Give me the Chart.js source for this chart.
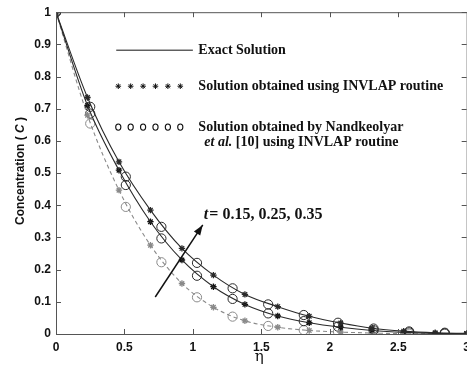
<!DOCTYPE html>
<html>
<head>
<meta charset="utf-8">
<script src="https://cdn.jsdelivr.net/npm/chart.js@4/dist/chart.umd.min.js"></script>
<style>
  html, body { margin: 0; padding: 0; background: #fff; overflow: hidden; }
  #wrap { width: 476px; height: 369px; }
</style>
</head>
<body>
<div id="wrap"><canvas id="concChart" width="476" height="369"></canvas></div>
<script>
// eta values where the INVLAP (stars) points sit
const etaStar = [0, 0.23, 0.46, 0.69, 0.92, 1.15, 1.38, 1.62, 1.85, 2.08, 2.31, 2.54, 2.77, 3.0];
const star35 = [1, 0.735, 0.535, 0.385, 0.266, 0.183, 0.123, 0.085, 0.055, 0.034, 0.018, 0.009, 0.004, 0.002];
const star25 = [1, 0.71, 0.509, 0.349, 0.230, 0.147, 0.092, 0.056, 0.035, 0.021, 0.011, 0.005, 0.002, 0.001];
const star15 = [1, 0.68, 0.447, 0.276, 0.157, 0.083, 0.041, 0.021, 0.011, 0.006, 0.003, 0.001, 0.0005, 0];

// eta values for Nandkeolyar et al. points (circles)
const etaCircle = [0, 0.25, 0.51, 0.77, 1.03, 1.29, 1.55, 1.81, 2.06, 2.32, 2.58, 2.84];
const circ35 = [1, 0.706, 0.489, 0.333, 0.221, 0.142, 0.092, 0.059, 0.035, 0.017, 0.008, 0.004];
const circ25 = [1, 0.685, 0.463, 0.297, 0.181, 0.109, 0.064, 0.040, 0.023, 0.012, 0.005, 0.002];
const circ15 = [1, 0.654, 0.395, 0.223, 0.114, 0.054, 0.025, 0.012, 0.007, 0.003, 0.001, 0.0005];

const xTicks = [0, 0.5, 1, 1.5, 2, 2.5, 3];
const yTicks = [0, 0.1, 0.2, 0.3, 0.4, 0.5, 0.6, 0.7, 0.8, 0.9, 1];

const legendLabels = ['Exact Solution', 'Solution obtained using INVLAP routine',
  'Solution obtained by Nandkeolyar', 'using INVLAP routine'];
const annotationText = '= 0.15, 0.25, 0.35';

function pts(xs, ys) { return xs.map((x, i) => ({ x: x, y: ys[i] })); }

const dark = '#2a2a2a';
const grey = '#8a8a8a';

function lineSet(data, color, dash) {
  return { data: data, showLine: true, borderColor: color, borderWidth: 1.1, borderDash: dash,
    pointRadius: 0, cubicInterpolationMode: 'monotone', fill: false };
}
function starSet(data, color) {
  return { data: data, showLine: false, pointStyle: 'star', pointRadius: 3.2,
    borderColor: color, pointBorderWidth: 1.3, backgroundColor: color };
}
function circSet(data, color) {
  return { data: data, showLine: false, pointStyle: 'circle', pointRadius: 4.6,
    borderColor: color, pointBorderWidth: 1, backgroundColor: 'rgba(0,0,0,0)' };
}

// inward ticks, boxed frame, legend text and the arrow annotation
const decor = {
  id: 'decor',
  afterDraw(chart) {
    const ctx = chart.ctx;
    const xs = chart.scales.x, ys = chart.scales.y;
    const a = chart.chartArea;
    ctx.save();
    ctx.strokeStyle = '#555';
    ctx.lineWidth = 1;
    ctx.beginPath();
    ctx.rect(a.left + 0.5, a.top + 0.5, a.right - a.left, a.bottom - a.top);
    ctx.stroke();
    ctx.beginPath();
    xTicks.forEach(v => {
      const px = Math.round(xs.getPixelForValue(v)) + 0.5;
      ctx.moveTo(px, a.bottom); ctx.lineTo(px, a.bottom - 5);
      ctx.moveTo(px, a.top); ctx.lineTo(px, a.top + 5);
    });
    yTicks.forEach(v => {
      const py = Math.round(ys.getPixelForValue(v)) + 0.5;
      ctx.moveTo(a.left, py); ctx.lineTo(a.left + 5, py);
      ctx.moveTo(a.right, py); ctx.lineTo(a.right - 5, py);
    });
    ctx.stroke();

    // legend
    const X = v => xs.getPixelForValue(v), Y = v => ys.getPixelForValue(v);
    ctx.fillStyle = '#111';
    ctx.strokeStyle = '#111';
    ctx.textBaseline = 'middle';
    ctx.textAlign = 'left';
    ctx.lineWidth = 1;
    ctx.beginPath();
    ctx.moveTo(X(0.44), Y(0.882)); ctx.lineTo(X(1.0), Y(0.882));
    ctx.stroke();
    ctx.font = 'bold 14px "Liberation Serif"';
    ctx.fillText(legendLabels[0], X(1.04), Y(0.882));
    for (let i = 0; i < 6; i++) {
      Chart.helpers.drawPoint(ctx, { pointStyle: 'star', radius: 2.8, rotation: 0, borderWidth: 2.2 },
        X(0.455) + i * 12.4, Y(0.770));
    }
    ctx.fillText(legendLabels[1], X(1.04), Y(0.770));
    ctx.lineWidth = 1.1;
    for (let i = 0; i < 6; i++) {
      ctx.beginPath();
      ctx.ellipse(X(0.455) + i * 12.4, Y(0.643), 2.6, 3.1, 0, 0, Math.PI * 2);
      ctx.stroke();
    }
    ctx.fillText(legendLabels[2], X(1.04), Y(0.643));
    let lx = X(1.04) + 6;
    ctx.font = 'italic bold 14px "Liberation Serif"';
    ctx.fillText('et al.', lx, Y(0.596));
    lx += ctx.measureText('et al. ').width;
    ctx.font = 'bold 14px "Liberation Serif"';
    ctx.fillText('[10] ' + legendLabels[3], lx, Y(0.596));

    // arrow
    const x0 = X(0.725), y0 = Y(0.115), x1 = X(1.072), y1 = Y(0.339);
    ctx.lineWidth = 1.5;
    ctx.beginPath(); ctx.moveTo(x0, y0); ctx.lineTo(x1, y1); ctx.stroke();
    const ang = Math.atan2(y1 - y0, x1 - x0);
    ctx.beginPath();
    ctx.moveTo(x1, y1);
    ctx.lineTo(x1 - 11 * Math.cos(ang - 0.35), y1 - 11 * Math.sin(ang - 0.35));
    ctx.lineTo(x1 - 11 * Math.cos(ang + 0.35), y1 - 11 * Math.sin(ang + 0.35));
    ctx.closePath(); ctx.fill();

    ctx.textAlign = 'left';
    ctx.font = 'italic bold 16px "Liberation Serif"';
    ctx.fillText('t', X(1.08), Y(0.37));
    const tw = ctx.measureText('t').width;
    ctx.font = 'bold 16px "Liberation Serif"';
    ctx.fillText(annotationText, X(1.08) + tw + 1, Y(0.37));

    // axis titles
    ctx.font = '15px "DejaVu Serif"';
    ctx.textAlign = 'center';
    ctx.fillText('η', (a.left + a.right) / 2 - 2, 357);
    ctx.translate(21, 171);
    ctx.rotate(-Math.PI / 2);
    ctx.font = 'bold 12px "Liberation Sans"';
    const p1 = 'Concentration ( ', p3 = ' )';
    const w1 = ctx.measureText(p1).width, w3b = ctx.measureText(p3).width;
    ctx.font = 'italic bold 12px "Liberation Sans"';
    const w2 = ctx.measureText('C').width;
    let sx = -(w1 + w2 + w3b) / 2;
    ctx.textAlign = 'left';
    ctx.font = 'bold 12px "Liberation Sans"';
    ctx.fillText(p1, sx, 0);
    ctx.font = 'italic bold 12px "Liberation Sans"';
    ctx.fillText('C', sx + w1, 0);
    ctx.font = 'bold 12px "Liberation Sans"';
    ctx.fillText(p3, sx + w1 + w2, 0);
    ctx.restore();
  }
};

const ctx = document.getElementById('concChart').getContext('2d');
const concChart = new Chart(ctx, {
  type: 'scatter',
  data: {
    datasets: [
      lineSet(pts(etaStar, star35), dark, []),
      lineSet(pts(etaStar, star25), dark, []),
      lineSet(pts(etaStar, star15), grey, [4, 3]),
      starSet(pts(etaStar, star35), dark),
      starSet(pts(etaStar, star25), '#111'),
      starSet(pts(etaStar, star15), grey),
      circSet(pts(etaCircle, circ35), dark),
      circSet(pts(etaCircle, circ25), dark),
      circSet(pts(etaCircle, circ15), grey)
    ]
  },
  options: {
    responsive: false,
    animation: false,
    layout: { padding: { top: 12, right: 6, left: 0, bottom: 0 } },
    plugins: { legend: { display: false }, tooltip: { enabled: false } },
    scales: {
      x: {
        type: 'linear', min: 0, max: 3,
        afterFit: s => { s.height = 35; },
        afterBuildTicks: s => { s.ticks = xTicks.map(v => ({ value: v })); },
        grid: { display: false, drawTicks: false },
        border: { display: false },
        ticks: { padding: 6, color: '#111', font: { family: 'Liberation Sans', size: 12, weight: 'bold' },
          callback: v => String(v) }
      },
      y: {
        type: 'linear', min: 0, max: 1,
        afterFit: s => { s.width = 56; },
        afterBuildTicks: s => { s.ticks = yTicks.map(v => ({ value: v })); },
        grid: { display: false, drawTicks: false },
        border: { display: false },
        ticks: { padding: 5, color: '#111', font: { family: 'Liberation Sans', size: 12, weight: 'bold' },
          callback: v => String(v) }
      }
    }
  },
  plugins: [decor]
});
</script>
</body>
</html>
